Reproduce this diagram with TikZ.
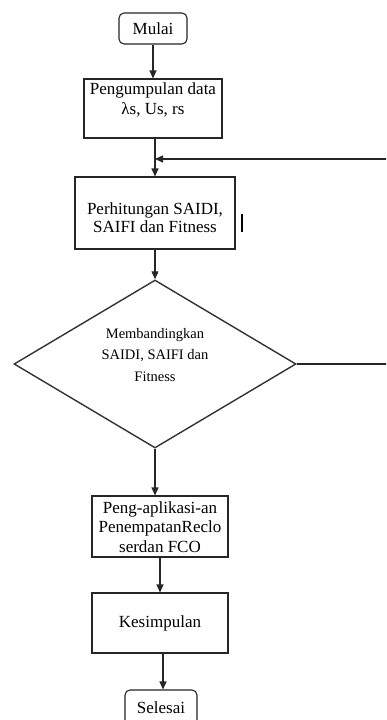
\documentclass[tikz,border=0pt]{standalone}
\usepackage{fontspec}
\setmainfont{Liberation Serif}
\usetikzlibrary{shapes.geometric,arrows.meta}
\begin{document}
\begin{tikzpicture}[x=1pt,y=-1pt,
  every node/.style={inner sep=0pt, text=black},
  pbox/.style={draw=black!85, line width=1.1pt},
  rbox/.style={draw=black!85, line width=1.1pt, rounded corners=5pt, font=\fontsize{17}{20}\selectfont},
  decision/.style={diamond, draw=black!80, line width=1.4pt},
  txt/.style={align=center, font=\fontsize{17}{#1}\selectfont},
  txt/.default=20,
  smalltxt/.style={align=center, font=\fontsize{14.5}{21.5}\selectfont},
  flow/.style={draw=black!85, line width=1.1pt},
  arr/.style={flow, -{Triangle[length=8pt,width=7pt]}}]
\useasboundingbox (0,0) rectangle (386,720);
\clip (0,0) rectangle (386,720);
\fill[white] (0,0) rectangle (386,720);
% nodes
\node[rbox, minimum width=68pt, minimum height=31pt] (mulai) at (153,28.5) {Mulai};
\node[pbox, minimum width=138pt, minimum height=59pt] (peng) at (153,108.5) {};
\node[txt] (pengt) at (153,100) {Pengumpulan data\\λs, Us, rs};
\node[pbox, minimum width=160pt, minimum height=72pt] (perh) at (155,213) {};
\node[txt=18] (perht) at (155,218) {Perhitungan SAIDI,\\SAIFI dan Fitness};
\node[decision, minimum width=282pt, minimum height=168pt] (dia) at (155,364) {};
\node[smalltxt] (diat) at (155,355) {Membandingkan\\SAIDI, SAIFI dan\\Fitness};
\node[pbox, minimum width=136pt, minimum height=61pt] (apl) at (160,526.5) {};
\node[txt=19.5] (aplt) at (160,527) {Peng-aplikasi-an\\PenempatanReclo\\serdan FCO};
\node[pbox, minimum width=136pt, minimum height=60pt, txt] (kes) at (160,623) {Kesimpulan};
\node[rbox, minimum width=72pt, minimum height=36pt] (sel) at (161,708) {Selesai};
% stray bar
\draw[line width=2.6pt] (242,214) -- (242,232);
% connectors
\coordinate (rt) at (389,159);
\coordinate (rb) at (389,365);
\draw[arr] (mulai.south) -- (peng.north);
\draw[arr] (peng.south -| perh.north) -- (perh.north);
\draw[arr] (perh.south) -- (dia.north);
\draw[arr] (dia.east) -- (dia.east -| rb) -- (rt) -- (rt -| perh.north);
\draw[arr] (dia.south) -- (dia.south |- apl.north);
\draw[arr] (apl.south) -- (kes.north);
\draw[arr] (kes.south -| 163,0) -- (163,0 |- sel.north);
\end{tikzpicture}
\end{document}
